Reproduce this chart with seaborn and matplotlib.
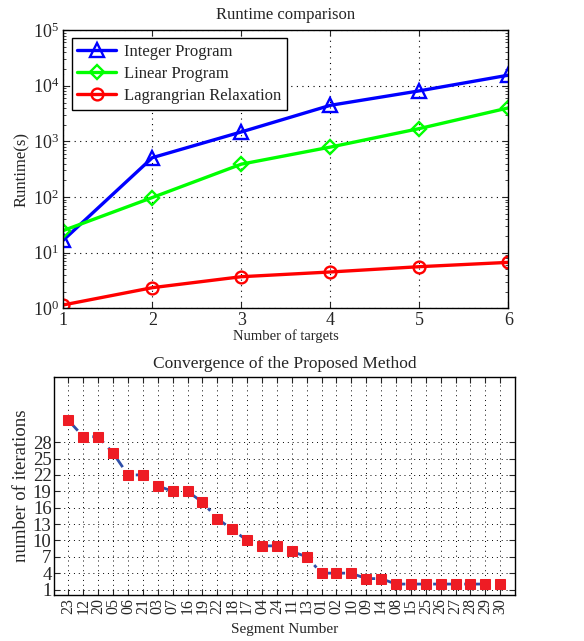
import numpy as np
import pandas as pd
import matplotlib
matplotlib.use("Agg")
import matplotlib.pyplot as plt
import matplotlib.ticker as mticker
import seaborn as sns

# ---------------- data ----------------
targets = [1, 2, 3, 4, 5, 6]
integer_program = [16.8, 510, 1480, 4450, 8100, 15500]
linear_program = [25, 98, 390, 790, 1700, 4000]
lagrangian = [1.15, 2.35, 3.7, 4.5, 5.6, 6.7]

segments = ["23", "12", "20", "05", "06", "21", "03", "07", "16", "19",
            "22", "18", "17", "04", "24", "11", "13", "01", "02", "10",
            "09", "14", "08", "15", "25", "26", "27", "28", "29", "30"]
iterations = [32, 29, 29, 26, 22, 22, 20, 19, 19, 17,
              14, 12, 10, 9, 9, 8, 7, 4, 4, 4,
              3, 3, 2, 2, 2, 2, 2, 2, 2, 2]
iter_ticks = [1, 4, 7, 10, 13, 16, 19, 22, 25, 28]

sns.set_style("ticks")
plt.rcParams["font.family"] = ["Liberation Serif", "DejaVu Serif"]
plt.rcParams["mathtext.fontset"] = "custom"
plt.rcParams["mathtext.rm"] = "Liberation Serif"
plt.rcParams["mathtext.it"] = "Liberation Serif"

fig = plt.figure(figsize=(5.84, 6.41), dpi=100)

# ---------------- top chart ----------------
ax1 = fig.add_axes([0.1084, 0.519, 0.762, 0.434])
df1 = pd.DataFrame({"x": targets, "y": integer_program})
df2 = pd.DataFrame({"x": targets, "y": linear_program})
df3 = pd.DataFrame({"x": targets, "y": lagrangian})
kw = dict(linewidth=2.4, markersize=10, markeredgewidth=1.7, markerfacecolor="none")
sns.lineplot(data=df1, x="x", y="y", ax=ax1, color="#0000ff", marker="^",
             markeredgecolor="#0000ff", label="Integer Program", **kw)
sns.lineplot(data=df2, x="x", y="y", ax=ax1, color="#00ff00", marker="D",
             markeredgecolor="#00ff00", label="Linear Program",
             **{**kw, "markersize": 7.5})
sns.lineplot(data=df3, x="x", y="y", ax=ax1, color="#ff0000", marker="o",
             markeredgecolor="#ff0000", label="Lagrangrian Relaxation",
             **{**kw, "markersize": 8.5})
ax1.set_yscale("log")
ax1.set_ylim(1, 1e5)
ax1.set_xlim(1, 6)
ax1.set_xticks(targets)
ax1.set_yticks([1, 10, 100, 1e3, 1e4, 1e5])
ax1.yaxis.set_major_formatter(mticker.LogFormatterMathtext())
ax1.yaxis.set_minor_locator(mticker.LogLocator(base=10, subs=np.arange(2, 10)))
ax1.yaxis.set_minor_formatter(mticker.NullFormatter())
ax1.grid(True, which="major", linestyle=(0, (1, 4)), color="black", linewidth=0.8)
ax1.tick_params(which="both", direction="in", top=True, right=True, labelsize=13)
ax1.tick_params(which="major", length=4, pad=3)
ax1.tick_params(which="minor", length=2)
for s in ax1.spines.values():
    s.set_visible(True)
    s.set_linewidth(1.0)
    s.set_color("black")
ax1.set_xlabel("Number of targets", fontsize=10.5, labelpad=0)
ax1.set_ylabel("Runtime(s)", fontsize=12, labelpad=2)
ax1.set_title("Runtime comparison", fontsize=12, pad=8)
leg = ax1.legend(loc="upper left", fontsize=12, frameon=True, fancybox=False,
                 edgecolor="black", framealpha=1, handlelength=2.3,
                 handletextpad=0.5, borderaxespad=0.5, labelspacing=0.35,
                 borderpad=0.35)
leg.get_frame().set_linewidth(1.0)

# ---------------- bottom chart ----------------
ax2 = fig.add_axes([0.093, 0.0718, 0.789, 0.3405])
df4 = pd.DataFrame({"idx": np.arange(len(segments)), "iters": iterations})
sns.lineplot(data=df4, x="idx", y="iters", ax=ax2, color="#2f4fa8",
             linestyle=(0, (5, 2.5, 1.2, 2.5)), linewidth=2.0, marker="s",
             markersize=7, markerfacecolor="#ee1c24", markeredgecolor="#ee1c24")
ax2.set_xlim(-0.95, len(segments) - 0.0)
ax2.set_ylim(0, 40)
ax2.set_xticks(np.arange(len(segments)))
ax2.set_xticklabels(segments, rotation=90, fontsize=11.5)
ax2.set_yticks(iter_ticks)
ax2.set_yticklabels([str(t) for t in iter_ticks], fontsize=13.5)
ax2.grid(True, linestyle=(0, (1, 4)), color="black", linewidth=0.7)
ax2.tick_params(direction="in", top=True, right=True, length=4, pad=2)
for s in ax2.spines.values():
    s.set_visible(True)
    s.set_linewidth(1.0)
    s.set_color("black")
ax2.set_xlabel("Segment Number", fontsize=11, labelpad=7)
ax2.set_ylabel("number of iterations", fontsize=13.5, labelpad=2)
ax2.set_title("Convergence of the Proposed Method", fontsize=12.5, pad=6)

fig.savefig("out.png", dpi=100)
